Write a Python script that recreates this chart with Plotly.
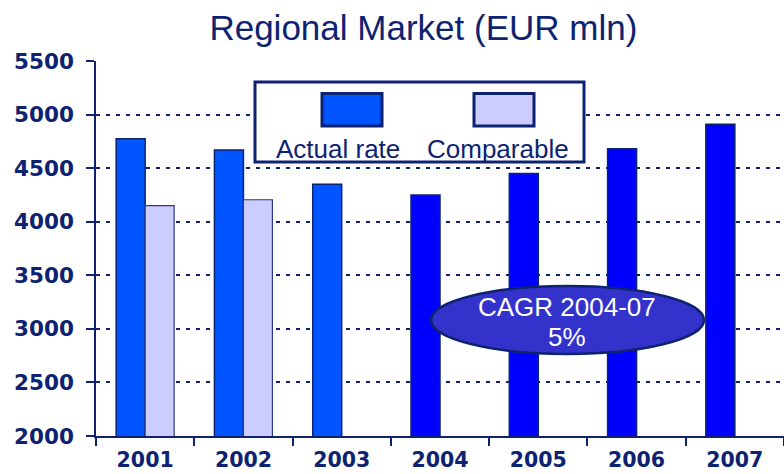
import plotly.graph_objects as go

# data
years = ["2001", "2002", "2003", "2004", "2005", "2006", "2007"]
actual_rate = [4775, 4670, 4350, 4250, 4450, 4680, 4910]
comparable = [4150, 4205, None, None, None, None, None]
actual_colors = ["#0055FF", "#0055FF", "#0055FF", "#0000FF", "#0000FF", "#0000FF", "#0000FF"]
y_ticks = [2000, 2500, 3000, 3500, 4000, 4500, 5000, 5500]

NAVY = "#0D2372"

fig = go.Figure()
fig.add_trace(go.Bar(
    x=years, y=actual_rate, name="Actual rate",
    marker=dict(color=actual_colors, line=dict(color=NAVY, width=1.5)),
))
fig.add_trace(go.Bar(
    x=years, y=comparable, name="Comparable",
    marker=dict(color="#CCCCFF", line=dict(color="#2A3A85", width=1.2)),
))

fig.update_layout(
    width=784, height=474,
    margin=dict(l=96, r=0, t=61, b=38, autoexpand=False),
    paper_bgcolor="white", plot_bgcolor="white",
    barmode="group", bargap=0.41, bargroupgap=0,
    showlegend=False,
    title=dict(text="Regional Market (EUR mln)", x=0.54, xanchor="center",
               y=0.968, yanchor="top",
               font=dict(family="Liberation Sans, Arial", size=35, color=NAVY)),
    font=dict(family="Liberation Sans, Arial", color=NAVY),
)

fig.update_xaxes(
    type="category", range=[-0.5, 6.5], automargin=False,
    showline=True, linecolor=NAVY, linewidth=1.5,
    ticks="outside", tickson="boundaries", ticklen=8, tickcolor=NAVY, tickwidth=1.5,
    ticklabelstandoff=5,
    showgrid=False,
    tickfont=dict(family="DejaVu Sans", size=20.5, color=NAVY, weight="bold"),
)
fig.update_yaxes(
    range=[2000, 5500], tickvals=y_ticks, automargin=False,
    showline=True, linecolor=NAVY, linewidth=1.5,
    ticks="outside", ticklen=8, tickcolor=NAVY, tickwidth=1.5,
    ticklabelstandoff=8,
    showgrid=True, gridcolor=NAVY, gridwidth=2, griddash="4px,6px",
    zeroline=False,
    tickfont=dict(family="DejaVu Sans", size=21.5, color=NAVY, weight="bold"),
)

# legend box drawn by hand (swatches above the labels)
def px_x(px):
    return (px - 96) / 688

def px_y(py):
    return (436 - py) / 375

fig.add_shape(type="rect", xref="paper", yref="paper", layer="above",
              x0=px_x(255), x1=px_x(584), y0=px_y(162), y1=px_y(82),
              fillcolor="white", line=dict(color=NAVY, width=3))
fig.add_shape(type="rect", xref="paper", yref="paper", layer="above",
              x0=px_x(322), x1=px_x(382), y0=px_y(126), y1=px_y(93.5),
              fillcolor="#0055FF", line=dict(color=NAVY, width=3))
fig.add_shape(type="rect", xref="paper", yref="paper", layer="above",
              x0=px_x(474), x1=px_x(534), y0=px_y(126), y1=px_y(93.5),
              fillcolor="#CCCCFF", line=dict(color=NAVY, width=3))
legend_font = dict(family="Liberation Sans, Arial", size=26, color=NAVY)
fig.add_annotation(text="Actual rate", xref="paper", yref="paper",
                   x=px_x(338), y=px_y(149), xanchor="center", yanchor="middle",
                   showarrow=False, font=legend_font)
fig.add_annotation(text="Comparable", xref="paper", yref="paper",
                   x=px_x(498), y=px_y(149), xanchor="center", yanchor="middle",
                   showarrow=False, font=legend_font)

# CAGR bubble
fig.add_shape(type="circle", xref="paper", yref="paper", layer="above",
              x0=px_x(431), x1=px_x(704), y0=px_y(354), y1=px_y(286),
              fillcolor="#3333CC", line=dict(color=NAVY, width=2.5))
bubble_font = dict(family="Liberation Sans, Arial", size=26, color="white")
fig.add_annotation(text="CAGR 2004-07", xref="paper", yref="paper",
                   x=px_x(567), y=px_y(307), xanchor="center", yanchor="middle",
                   showarrow=False, font=bubble_font)
fig.add_annotation(text="5%", xref="paper", yref="paper",
                   x=px_x(567), y=px_y(337), xanchor="center", yanchor="middle",
                   showarrow=False, font=bubble_font)

# drop the default body margin so the figure sits at the window's corner
fig.write_html("out.html", config={"displayModeBar": False},
               post_script="document.body.style.margin='0';")
